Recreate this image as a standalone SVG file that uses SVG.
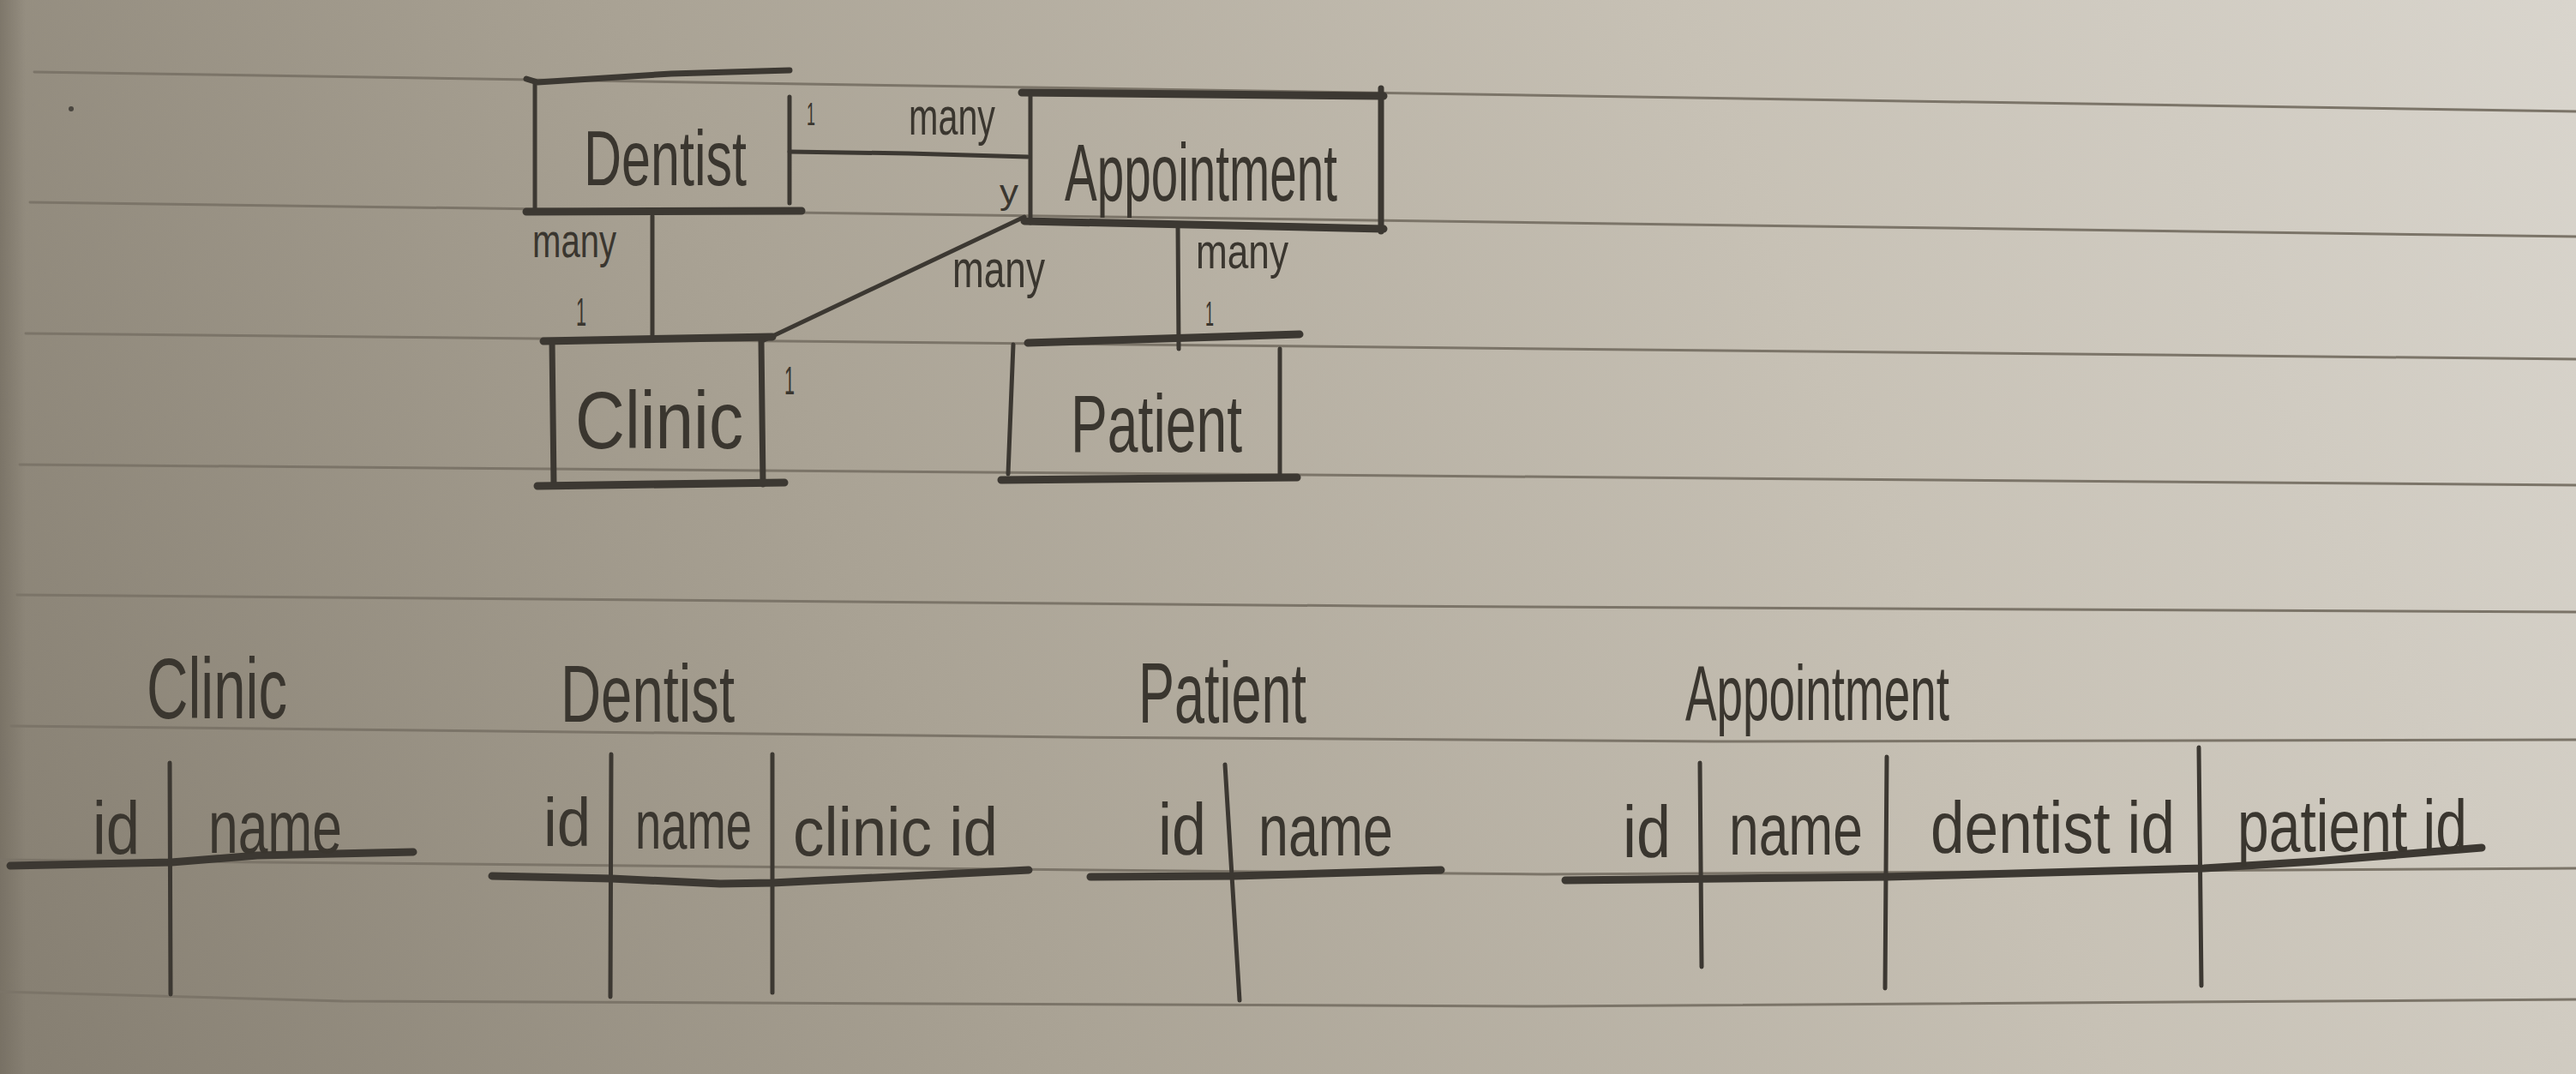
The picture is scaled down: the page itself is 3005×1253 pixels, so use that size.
<svg xmlns="http://www.w3.org/2000/svg" width="3005" height="1253" viewBox="0 0 3005 1253">
<defs>
<linearGradient id="paper" gradientUnits="userSpaceOnUse" x1="0" y1="1253" x2="3005" y2="0">
<stop offset="0" stop-color="#857e71"/>
<stop offset="0.35" stop-color="#a9a294"/>
<stop offset="0.7" stop-color="#c7c1b5"/>
<stop offset="1" stop-color="#d9d5cd"/>
</linearGradient>
<linearGradient id="edge" x1="0" y1="0" x2="1" y2="0">
<stop offset="0" stop-color="#6f685c" stop-opacity="0.6"/>
<stop offset="1" stop-color="#6f685c" stop-opacity="0"/>
</linearGradient>
<style>
.rule{fill:none;stroke:#7b7468;stroke-width:3;stroke-linecap:round}
.pen{fill:none;stroke:#3c3832;stroke-linecap:round;stroke-linejoin:round}
.thick{stroke-width:9}
.mid{stroke-width:7}
.thin{stroke-width:5}
.hw{font-family:"Liberation Sans Narrow","Liberation Sans","DejaVu Sans Condensed",sans-serif;fill:#3a362f}
</style>
</defs>
<rect width="3005" height="1253" fill="url(#paper)"/>
<rect width="30" height="1253" fill="url(#edge)"/>
<g id="paper-lines">
<path class="rule" d="M40,84 L3005,130"/>
<path class="rule" d="M35,236 L3005,276"/>
<path class="rule" d="M30,389 L3005,419"/>
<path class="rule" d="M23,542 L3005,566"/>
<path class="rule" d="M20,694 L1600,707 L3005,714"/>
<path class="rule" d="M13,847 L1250,860 L2000,865 L3005,863"/>
<path class="rule" d="M0,1003 L1800,1020 L3005,1013"/>
<path class="rule" d="M0,1157 L400,1168 L1800,1174 L3005,1166"/>
<circle cx="83" cy="127" r="3" fill="#4a463f"/>
</g>
<g id="connectors">
<path class="pen thin" d="M921,177 L1060,179 L1199,183"/>
<path class="pen thin" d="M761,252 L761,393"/>
<path class="pen thin" d="M891,397 L1195,253"/>
<path class="pen thin" d="M1374,263 L1375,407"/>
<text class="hw" x="941" y="146" font-size="36" textLength="10" lengthAdjust="spacingAndGlyphs">1</text>
<text class="hw" x="1060" y="157" font-size="62" textLength="101" lengthAdjust="spacingAndGlyphs">many</text>
<text class="hw" x="1166" y="238" font-size="40" textLength="22" lengthAdjust="spacingAndGlyphs">y</text>
<text class="hw" x="621" y="300" font-size="56" textLength="98" lengthAdjust="spacingAndGlyphs">many</text>
<text class="hw" x="672" y="380" font-size="46" textLength="12" lengthAdjust="spacingAndGlyphs">1</text>
<text class="hw" x="1111" y="335" font-size="62" textLength="108" lengthAdjust="spacingAndGlyphs">many</text>
<text class="hw" x="915" y="460" font-size="46" textLength="12" lengthAdjust="spacingAndGlyphs">1</text>
<text class="hw" x="1395" y="313" font-size="58" textLength="108" lengthAdjust="spacingAndGlyphs">many</text>
<text class="hw" x="1406" y="380" font-size="40" textLength="10" lengthAdjust="spacingAndGlyphs">1</text>
</g>
<g id="node-dentist">
<path class="pen mid" d="M614,92 L627,96 L783,86 L921,82"/>
<path class="pen thin" d="M624,95 L624,243"/>
<path class="pen thick" d="M614,247 L935,246"/>
<path class="pen thin" d="M921,113 L921,237"/>
<text class="hw" transform="translate(681,216) scale(1,1.25)" x="0" y="0" font-size="72" textLength="190" lengthAdjust="spacingAndGlyphs">Dentist</text>
</g>
<g id="node-appointment">
<path class="pen thick" d="M1192,108 L1614,112"/>
<path class="pen thin" d="M1202,107 L1202,260"/>
<path class="pen mid" d="M1611,103 L1611,270"/>
<path class="pen thick" d="M1195,258 L1614,267"/>
<text class="hw" x="1242" y="234" font-size="95" textLength="318" lengthAdjust="spacingAndGlyphs">Appointment</text>
</g>
<g id="node-clinic">
<path class="pen thick" d="M634,398 L901,393"/>
<path class="pen mid" d="M644,398 L646,567"/>
<path class="pen mid" d="M888,397 L890,565"/>
<path class="pen thick" d="M627,567 L915,563"/>
<text class="hw" x="671" y="523" font-size="95" textLength="196" lengthAdjust="spacingAndGlyphs">Clinic</text>
</g>
<g id="node-patient">
<path class="pen thick" d="M1199,400 L1516,390"/>
<path class="pen thin" d="M1182,402 L1176,553"/>
<path class="pen thin" d="M1493,407 L1493,553"/>
<path class="pen thick" d="M1168,560 L1513,557"/>
<text class="hw" x="1249" y="527" font-size="95" textLength="200" lengthAdjust="spacingAndGlyphs">Patient</text>
</g>
<g id="table-clinic">
<text class="hw" x="171" y="838" font-size="100" textLength="164" lengthAdjust="spacingAndGlyphs">Clinic</text>
<path class="pen thick" d="M12,1010 L200,1006 L300,998 L482,994"/>
<path class="pen thin" d="M198,890 L199,1160"/>
<text class="hw" x="108" y="996" font-size="88" textLength="55" lengthAdjust="spacingAndGlyphs">id</text>
<text class="hw" x="243" y="995" font-size="88" textLength="156" lengthAdjust="spacingAndGlyphs">name</text>
</g>
<g id="table-dentist">
<text class="hw" x="654" y="842" font-size="95" textLength="203" lengthAdjust="spacingAndGlyphs">Dentist</text>
<path class="pen thick" d="M574,1022 L713,1025 L840,1031 L901,1030 L1200,1015"/>
<path class="pen thin" d="M713,880 L712,1163"/>
<path class="pen thin" d="M901,880 L901,1158"/>
<text class="hw" x="634" y="987" font-size="80" textLength="55" lengthAdjust="spacingAndGlyphs">id</text>
<text class="hw" x="741" y="990" font-size="80" textLength="136" lengthAdjust="spacingAndGlyphs">name</text>
<text class="hw" x="925" y="998" font-size="80" textLength="239" lengthAdjust="spacingAndGlyphs">clinic id</text>
</g>
<g id="table-patient">
<text class="hw" x="1328" y="843" font-size="100" textLength="196" lengthAdjust="spacingAndGlyphs">Patient</text>
<path class="pen thick" d="M1272,1023 L1440,1022 L1681,1015"/>
<path class="pen thin" d="M1429,892 L1446,1167"/>
<text class="hw" x="1351" y="997" font-size="85" textLength="56" lengthAdjust="spacingAndGlyphs">id</text>
<text class="hw" x="1468" y="998" font-size="85" textLength="157" lengthAdjust="spacingAndGlyphs">name</text>
</g>
<g id="table-appointment">
<text class="hw" x="1966" y="840" font-size="90" textLength="308" lengthAdjust="spacingAndGlyphs">Appointment</text>
<path class="pen thick" d="M1826,1027 L2201,1023 L2571,1013 L2700,1005 L2895,989"/>
<path class="pen thin" d="M1983,890 L1985,1128"/>
<path class="pen thin" d="M2201,883 L2199,1153"/>
<path class="pen thin" d="M2565,872 L2568,1150"/>
<text class="hw" x="1893" y="1000" font-size="85" textLength="56" lengthAdjust="spacingAndGlyphs">id</text>
<text class="hw" x="2017" y="997" font-size="85" textLength="156" lengthAdjust="spacingAndGlyphs">name</text>
<text class="hw" x="2252" y="995" font-size="85" textLength="285" lengthAdjust="spacingAndGlyphs">dentist id</text>
<text class="hw" x="2610" y="993" font-size="85" textLength="268" lengthAdjust="spacingAndGlyphs">patient id</text>
</g>
</svg>
